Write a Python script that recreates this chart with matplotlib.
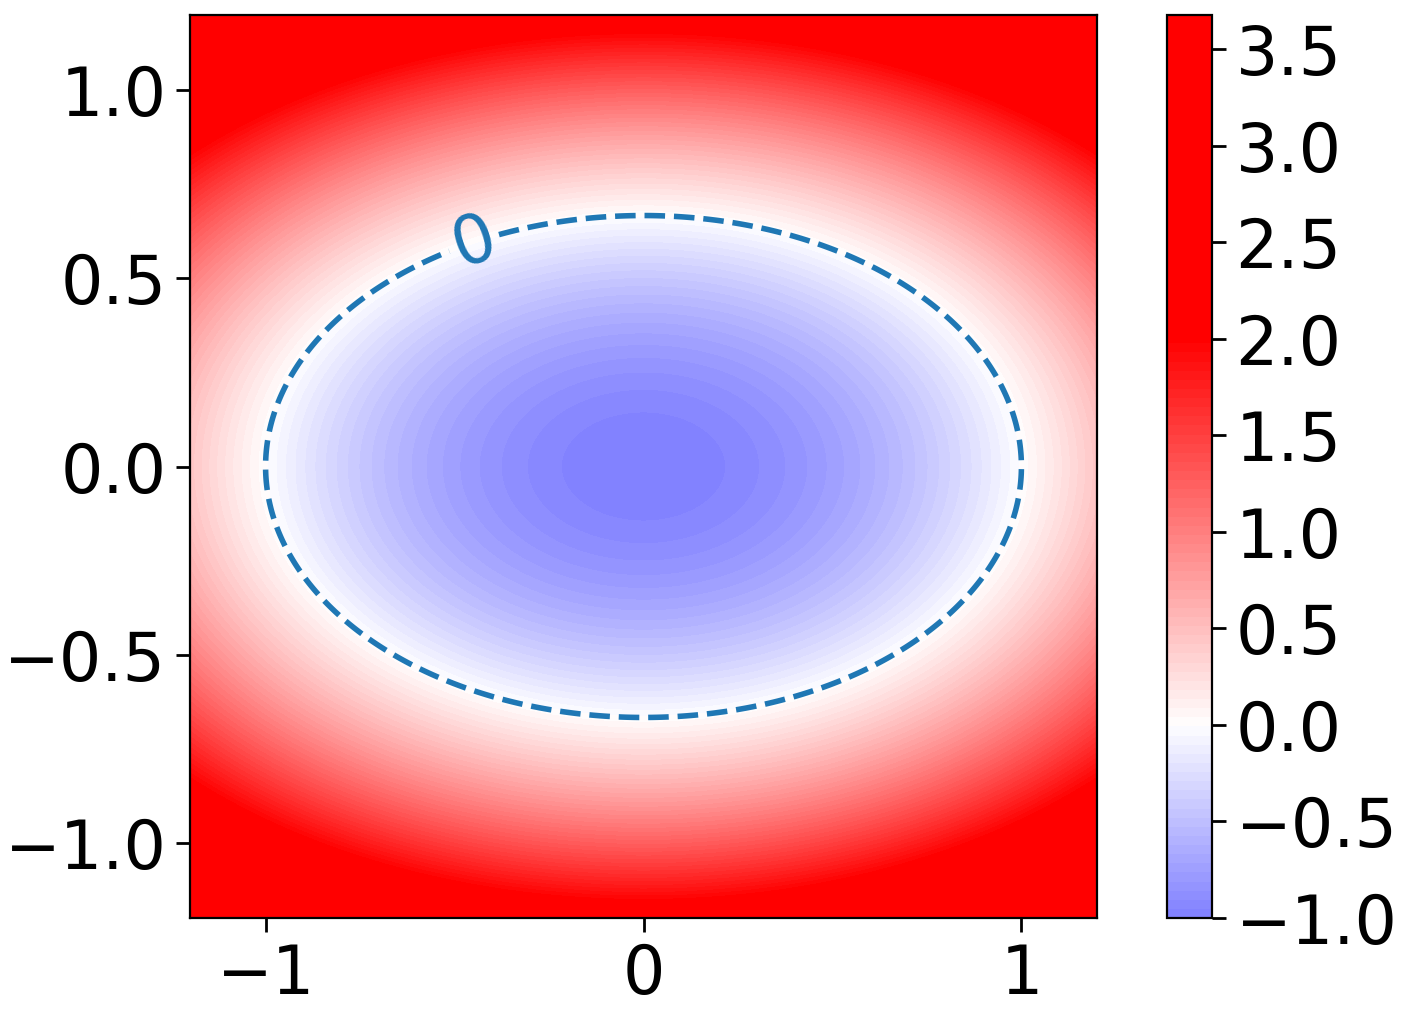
import numpy as np
import matplotlib
matplotlib.use("Agg")
import matplotlib.pyplot as plt
from matplotlib.colors import Normalize, ListedColormap

# surface: elliptic bowl, zero contour at x=+-1, y=+-2/3
semi_x = 1.0
semi_y = 0.667
z_min = -1.0
x_range = [-1.2, 1.2]
y_range = [-1.2, 1.2]

x_ticks = [-1, 0, 1]
y_ticks = [-1.0, -0.5, 0.0, 0.5, 1.0]
cbar_ticks = [-1.0, -0.5, 0.0, 0.5, 1.0, 1.5, 2.0, 2.5, 3.0, 3.5]
label_pos = [(-0.45, 0.6)]

plt.rcParams["font.size"] = 24

xs = np.linspace(x_range[0], x_range[1], 401)
ys = np.linspace(y_range[0], y_range[1], 401)
X, Y = np.meshgrid(xs, ys)
Z = -z_min * ((X / semi_x) ** 2 + (Y / semi_y) ** 2) + z_min

fig = plt.figure(figsize=(7.025, 5.055), dpi=200)
ax = fig.add_axes([190 / 1405, 1 - 918 / 1011, 907 / 1405, 903 / 1011])
cax = fig.add_axes([1167 / 1405, 1 - 918 / 1011, 45 / 1405, 903 / 1011])

levels = np.linspace(Z.min(), Z.max(), 100)
# bwr centred on 0, saturating at +-2, cut to the data range
mids = 0.5 * (levels[:-1] + levels[1:])
band_cmap = ListedColormap(plt.get_cmap("bwr")(Normalize(-2, 2, clip=True)(mids)))
cf = ax.contourf(X, Y, Z, levels=levels, cmap=band_cmap)
cs = ax.contour(X, Y, Z, levels=[0], colors="C0", linestyles="dashed", linewidths=2)
ax.clabel(cs, manual=label_pos, fontsize=24, fmt="%g")

ax.set_xlim(x_range)
ax.set_ylim(y_range)
ax.set_xticks(x_ticks)
ax.set_yticks(y_ticks)
ax.tick_params(length=5, width=1)

cb = fig.colorbar(cf, cax=cax)
cb.set_ticks(cbar_ticks)
cb.ax.tick_params(length=5, width=1)

fig.savefig("out.png", dpi=200)
